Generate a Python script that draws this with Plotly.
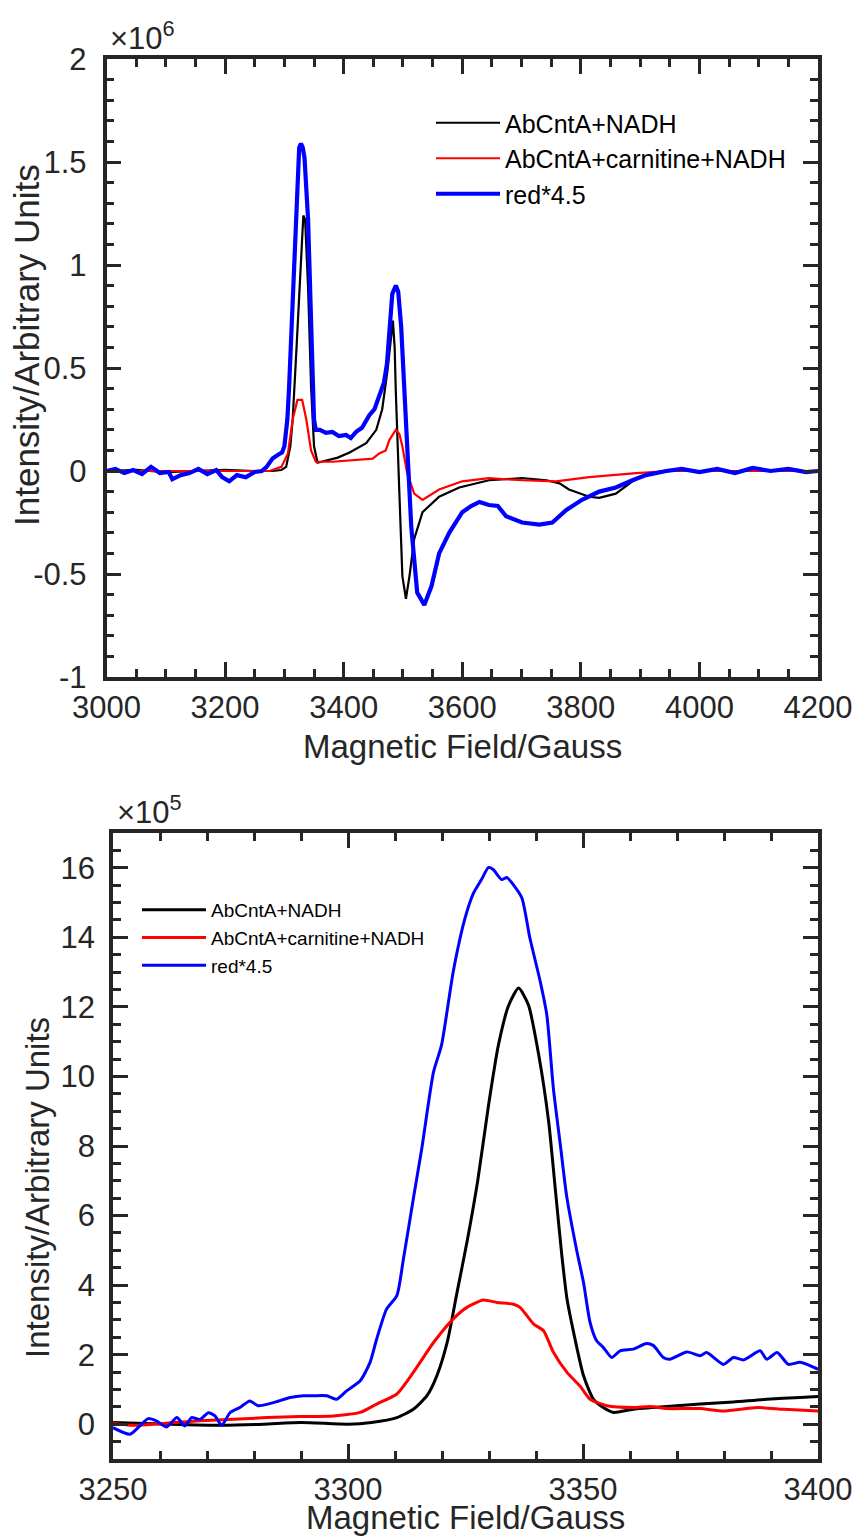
import plotly.graph_objects as go

# ---------------- data: top panel (field in Gauss, intensity in units of 1e6) ----------------
top_black_x = [3000, 3050, 3100, 3150, 3200, 3250, 3280, 3295, 3303, 3310, 3314, 3320, 3325, 3328,
               3332, 3335, 3338, 3340, 3345, 3350, 3356, 3370, 3390, 3410, 3438, 3455, 3465, 3474,
               3480, 3483, 3486, 3488, 3494, 3499, 3505, 3511, 3519, 3533, 3561, 3595, 3645, 3701,
               3742, 3764, 3780, 3814, 3831, 3859, 3887, 3915, 3950, 4000, 4100, 4200]
top_black_y = [0.0, 0.005, -0.005, 0.0, 0.005, 0.0, 0.0, 0.005, 0.02, 0.12, 0.25, 0.57, 0.85, 1.06,
               1.24, 1.22, 1.05, 0.89, 0.41, 0.12, 0.04, 0.05, 0.065, 0.09, 0.135, 0.2, 0.3, 0.49,
               0.66, 0.73, 0.6, 0.38, -0.11, -0.51, -0.62, -0.51, -0.33, -0.20, -0.125, -0.08, -0.045, -0.035,
               -0.045, -0.06, -0.09, -0.125, -0.13, -0.11, -0.05, -0.01, 0.0, 0.0, 0.0, 0.0]

top_red_x = [3000, 3100, 3200, 3275, 3295, 3306, 3314, 3322, 3330, 3337, 3345, 3353, 3381, 3426,
             3449, 3460, 3471, 3477, 3488, 3494, 3499, 3507, 3519, 3533, 3561, 3600, 3645, 3701,
             3758, 3814, 3893, 3950, 4050, 4200]
top_red_y = [0.0, 0.0, 0.0, 0.0, 0.02, 0.085, 0.25, 0.345, 0.345, 0.25, 0.1, 0.045, 0.045, 0.055,
             0.06, 0.085, 0.1, 0.15, 0.2, 0.18, 0.12, -0.01, -0.11, -0.14, -0.09, -0.05, -0.035, -0.045,
             -0.05, -0.03, -0.01, 0.0, 0.0, 0.0]

top_blue_x = [3000, 3015, 3030, 3045, 3060, 3075, 3090, 3105, 3111, 3125, 3140, 3155, 3170, 3185,
              3195, 3207, 3220, 3235, 3250, 3262, 3270, 3280, 3290, 3296, 3300, 3305, 3308, 3313,
              3317, 3321, 3325, 3328, 3331, 3334, 3340, 3345, 3350, 3353, 3360, 3370, 3381, 3392,
              3404, 3412, 3421, 3431, 3443, 3452, 3460, 3468, 3473, 3477, 3482, 3488, 3492, 3497,
              3505, 3514, 3524, 3536, 3548, 3561, 3578, 3600, 3615, 3629, 3645, 3660, 3674, 3701,
              3730, 3752, 3775, 3802, 3831, 3859, 3887, 3910, 3944, 3970, 4000, 4030, 4060, 4090,
              4120, 4150, 4180, 4200]
top_blue_y = [0.0, 0.01, -0.01, 0.005, -0.015, 0.02, -0.01, -0.005, -0.04, -0.02, -0.01, 0.01, -0.015, 0.005,
              -0.03, -0.05, -0.02, -0.03, -0.005, 0.0, 0.02, 0.06, 0.08, 0.09, 0.12, 0.25, 0.41, 0.75,
              1.06, 1.35, 1.57, 1.59, 1.57, 1.52, 1.22, 0.73, 0.25, 0.2, 0.2, 0.185, 0.19, 0.17,
              0.175, 0.16, 0.19, 0.21, 0.27, 0.30, 0.36, 0.43, 0.52, 0.65, 0.86, 0.90, 0.87, 0.70,
              0.21, -0.27, -0.59, -0.65, -0.56, -0.40, -0.30, -0.20, -0.17, -0.15, -0.165, -0.17, -0.22, -0.25,
              -0.26, -0.25, -0.19, -0.14, -0.10, -0.08, -0.045, -0.02, 0.0, 0.01, -0.005, 0.01, -0.01, 0.015,
              0.0, 0.01, -0.005, 0.0]

# ---------------- data: bottom panel (zoom, intensity in units of 1e5) ----------------
bot_black_x = [3250, 3262, 3273, 3282, 3290, 3300, 3305, 3310.4, 3313.9, 3316.8, 3318.9, 3321.1, 3323.2,
               3325.4, 3327.6, 3329.9, 3332.0, 3334.2, 3336.3, 3338.4, 3340.6, 3342.7, 3344.1, 3345.5,
               3346.6, 3348.0, 3350.1, 3352.2, 3354.3, 3356.5, 3360.7, 3367.8, 3374.9, 3382.0, 3389.1,
               3396.2, 3400]
bot_black_y = [0.05, 0.0, -0.03, 0.0, 0.05, 0.0, 0.05, 0.19, 0.43, 0.82, 1.39, 2.35, 3.79,
               5.3, 7.0, 9.17, 10.9, 12.05, 12.54, 12.05, 10.6, 8.69, 6.77, 4.85,
               3.6, 2.64, 1.40, 0.72, 0.48, 0.34, 0.43, 0.51, 0.58, 0.64, 0.72,
               0.77, 0.80]

bot_red_x = [3250, 3254.3, 3261.4, 3268.5, 3275.6, 3282.7, 3289.8, 3296.9, 3302.6, 3306.1, 3310.4, 3313.9,
             3318.2, 3322.4, 3325.3, 3328.8, 3331.7, 3335.2, 3336.6, 3339.5, 3341.6, 3343.7, 3346.6,
             3349.4, 3351.5, 3355.1, 3360.7, 3364.3, 3367.8, 3374.9, 3379.9, 3387.0, 3392.7, 3400]
bot_red_y = [0.03, -0.03, 0.03, 0.10, 0.14, 0.19, 0.22, 0.24, 0.34, 0.58, 0.87, 1.49,
             2.35, 3.03, 3.36, 3.57, 3.50, 3.45, 3.36, 2.88, 2.69, 2.07, 1.49,
             1.09, 0.72, 0.53, 0.48, 0.51, 0.45, 0.45, 0.38, 0.48, 0.43, 0.38]

bot_blue_x = [3250, 3253.6, 3255.7, 3257.5, 3259.3, 3261.4, 3263.6, 3265.3, 3266.7, 3268.5, 3270.3, 3271.7,
              3273.1, 3274.9, 3277.0, 3279.1, 3280.9, 3284.1, 3287.7, 3290.5, 3292.6, 3295.5, 3297.6,
              3299.7, 3302.6, 3304.7, 3306.1, 3308.2, 3310.4, 3311.8, 3313.9, 3315.7, 3318.2, 3319.9,
              3322.4, 3324.9, 3326.7, 3328.4, 3329.9, 3330.9, 3332.7, 3333.8, 3335.2, 3337.0, 3338.7,
              3340.9, 3342.3, 3343.7, 3345.3, 3346.5, 3348.6, 3350.1, 3351.5, 3352.9, 3354.3, 3356.1,
              3357.9, 3360.7, 3363.5, 3365.0, 3367.1, 3368.5, 3372.1, 3374.9, 3376.3, 3379.9, 3382.0,
              3384.2, 3387.7, 3389.1, 3391.3, 3393.7, 3396.2, 3400]
bot_blue_y = [-0.10, -0.29, -0.05, 0.16, 0.09, -0.08, 0.19, -0.05, 0.19, 0.14, 0.33, 0.24,
              -0.03, 0.33, 0.48, 0.67, 0.53, 0.62, 0.77, 0.82, 0.82, 0.82, 0.72,
              0.96, 1.25, 1.78, 2.45, 3.31, 3.70, 4.76, 6.48, 7.93, 10.13, 10.9,
              13.02, 14.55, 15.27, 15.66, 16.01, 15.95, 15.66, 15.72, 15.51, 15.13, 13.98,
              12.73, 11.77, 9.65, 7.9, 6.58, 5.04, 4.08, 2.93, 2.40, 2.21, 1.92,
              2.11, 2.16, 2.32, 2.26, 1.92, 1.87, 2.08, 1.97, 2.06, 1.72, 1.92,
              1.85, 2.11, 1.87, 2.06, 1.72, 1.78, 1.58]

series_names = ["AbCntA+NADH", "AbCntA+carnitine+NADH", "red*4.5"]
series_colors = ["#000000", "#ff0000", "#0000ff"]

top_xticks = [3000, 3200, 3400, 3600, 3800, 4000, 4200]
top_yticks = [-1, -0.5, 0, 0.5, 1, 1.5, 2]
top_yticklabels = ["-1", "-0.5", "0", "0.5", "1", "1.5", "2"]
bot_xticks = [3250, 3300, 3350, 3400]
bot_yticks = [0, 2, 4, 6, 8, 10, 12, 14, 16]

x_title = "Magnetic Field/Gauss"
y_title = "Intensity/Arbitrary Units"

# ---------------- figure ----------------
W, H = 861, 1539
AX = "#262626"
FONT = "Liberation Sans, Arial, Helvetica, sans-serif"

fig = go.Figure()

top_sets = [(top_black_x, top_black_y, 2.2), (top_red_x, top_red_y, 2.2), (top_blue_x, top_blue_y, 4.2)]
for (xs, ys, w), name, col in zip(top_sets, series_names, series_colors):
    fig.add_trace(go.Scatter(x=xs, y=ys, mode="lines", name=name, line=dict(color=col, width=w),
                             xaxis="x", yaxis="y", legend="legend"))

bot_sets = [(bot_black_x, bot_black_y), (bot_red_x, bot_red_y), (bot_blue_x, bot_blue_y)]
for (xs, ys), name, col in zip(bot_sets, series_names, series_colors):
    fig.add_trace(go.Scatter(x=xs, y=ys, mode="lines", name=name,
                             line=dict(color=col, width=3, shape="spline", smoothing=0.6),
                             xaxis="x2", yaxis="y2", legend="legend2"))


def px_x(p):
    return p / W


def px_y(p):
    return 1 - p / H


common = dict(showline=True, linecolor=AX, linewidth=3.5, mirror="allticks", ticks="inside",
              tickcolor=AX, tickwidth=3, ticklen=15, showgrid=False, zeroline=False,
              tickfont=dict(family=FONT, size=31, color=AX))
minor_common = dict(ticks="inside", ticklen=8, tickwidth=3, tickcolor=AX)

fig.update_layout(
    width=W, height=H, margin=dict(l=0, r=0, t=0, b=0, autoexpand=False),
    paper_bgcolor="white", plot_bgcolor="white", font=dict(family=FONT, color=AX),
    xaxis=dict(common, domain=[px_x(106.5), px_x(818)], range=[3000, 4200], anchor="y",
               tickvals=top_xticks, ticklabelstandoff=0,
               minor=dict(minor_common, dtick=50, tick0=3000)),
    yaxis=dict(common, domain=[px_y(677), px_y(59)], range=[-1, 2], anchor="x",
               tickvals=top_yticks, ticktext=top_yticklabels, ticklabelstandoff=10,
               minor=dict(minor_common, dtick=0.1, tick0=0)),
    xaxis2=dict(common, domain=[px_x(113), px_x(818)], range=[3250, 3400], anchor="y2",
                tickvals=bot_xticks, ticklabelstandoff=0,
                minor=dict(minor_common, dtick=10, tick0=3250)),
    yaxis2=dict(common, domain=[px_y(1459), px_y(833)], range=[-1, 17], anchor="x2",
                tickvals=bot_yticks, ticklabelstandoff=8,
                minor=dict(minor_common, dtick=0.5, tick0=0)),
    legend=dict(x=px_x(431), y=px_y(100), xanchor="left", yanchor="top", bgcolor="rgba(0,0,0,0)",
                font=dict(family=FONT, size=25, color="#000000"), itemwidth=64, tracegroupgap=0),
    legend2=dict(x=px_x(137), y=px_y(891), xanchor="left", yanchor="top", bgcolor="rgba(0,0,0,0)",
                 font=dict(family=FONT, size=19, color="#000000"), itemwidth=64, tracegroupgap=0),
    showlegend=True,
    annotations=[
        dict(text="\u00d710<sup>6</sup>", x=px_x(108), y=px_y(58), xref="paper", yref="paper",
             xanchor="left", yanchor="bottom", showarrow=False,
             font=dict(family=FONT, size=31, color=AX)),
        dict(text="\u00d710<sup>5</sup>", x=px_x(115), y=px_y(832), xref="paper", yref="paper",
             xanchor="left", yanchor="bottom", showarrow=False,
             font=dict(family=FONT, size=31, color=AX)),
        # axis titles
        dict(text=x_title, x=px_x(462), y=px_y(746), xref="paper", yref="paper",
             xanchor="center", yanchor="middle", showarrow=False,
             font=dict(family=FONT, size=33, color=AX)),
        dict(text=x_title, x=px_x(465), y=px_y(1517), xref="paper", yref="paper",
             xanchor="center", yanchor="middle", showarrow=False,
             font=dict(family=FONT, size=33, color=AX)),
        dict(text=y_title, x=px_x(27), y=px_y(345), xref="paper", yref="paper", textangle=-90,
             xanchor="center", yanchor="middle", showarrow=False,
             font=dict(family=FONT, size=35, color=AX)),
        dict(text=y_title, x=px_x(37), y=px_y(1188), xref="paper", yref="paper", textangle=-90,
             xanchor="center", yanchor="middle", showarrow=False,
             font=dict(family=FONT, size=33, color=AX)),
    ],
)

fig.write_html("out.html")
